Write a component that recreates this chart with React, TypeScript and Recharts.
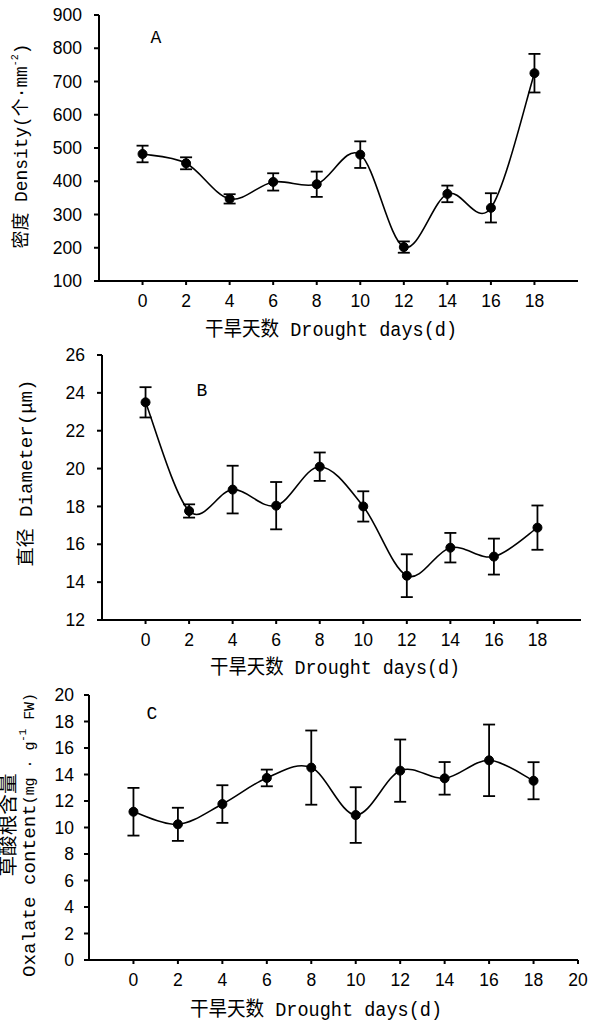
import { LineChart, Line, XAxis, YAxis, ErrorBar } from 'recharts'

const days = [0, 2, 4, 6, 8, 10, 12, 14, 16, 18]

const densityMean = [482, 454, 347, 398, 391, 480, 202, 362, 320, 725]
const densityErr = [25, 18, 14, 26, 38, 40, 17, 25, 44, 58]
const densityTicks = [100, 200, 300, 400, 500, 600, 700, 800, 900]

const diameterMean = [23.5, 17.76, 18.89, 18.04, 20.1, 18.0, 14.34, 15.82, 15.35, 16.88]
const diameterErr = [0.8, 0.35, 1.26, 1.25, 0.75, 0.8, 1.13, 0.78, 0.95, 1.17]
const diameterTicks = [12, 14, 16, 18, 20, 22, 24, 26]

const oxalateMean = [11.19, 10.24, 11.77, 13.74, 14.52, 10.94, 14.29, 13.71, 15.07, 13.53]
const oxalateErr = [1.8, 1.25, 1.42, 0.63, 2.8, 2.1, 2.35, 1.23, 2.7, 1.4]
const oxalateTicks = [0, 2, 4, 6, 8, 10, 12, 14, 16, 18, 20]

const dayTicks = [0, 2, 4, 6, 8, 10, 12, 14, 16, 18]
const dayTicksC = [0, 2, 4, 6, 8, 10, 12, 14, 16, 18, 20]

const TICK_FONT = "'Liberation Sans', Arial, sans-serif"
const TITLE_FONT = "'Liberation Mono', 'Noto Sans CJK SC', monospace"

// smooth line like the spreadsheet "smoothed line" (catmull-rom style bezier)
const smoothCurve = (context: any) => {
  let pts: [number, number][] = []
  return {
    areaStart() {},
    areaEnd() {},
    lineStart() {
      pts = []
    },
    lineEnd() {
      if (!pts.length) return
      context.moveTo(pts[0][0], pts[0][1])
      for (let i = 0; i < pts.length - 1; i++) {
        const p0 = pts[Math.max(i - 1, 0)]
        const p1 = pts[i]
        const p2 = pts[i + 1]
        const p3 = pts[Math.min(i + 2, pts.length - 1)]
        context.bezierCurveTo(
          p1[0] + (p2[0] - p0[0]) / 6,
          p1[1] + (p2[1] - p0[1]) / 6,
          p2[0] - (p3[0] - p1[0]) / 6,
          p2[1] - (p3[1] - p1[1]) / 6,
          p2[0],
          p2[1]
        )
      }
    },
    point(x: number, y: number) {
      pts.push([x, y])
    },
  }
}

const toRows = (mean: number[], err: number[]) =>
  days.map((d, i) => ({ day: d, value: mean[i], err: err[i] }))

interface PanelProps {
  rows: { day: number; value: number; err: number }[]
  top: number
  height: number
  left: number
  right: number
  xAxisHeight: number
  yDomain: [number, number]
  yTicks: number[]
  xTicks: number[]
  yTickMargin: number
}

function Panel({ rows, top, height, left, right, xAxisHeight, yDomain, yTicks, xTicks, yTickMargin }: PanelProps) {
  return (
    <div style={{ position: 'absolute', top, left: 0 }}>
      <LineChart width={589} height={height} data={rows} margin={{ top: 15, right: 589 - right, left: 0, bottom: 0 }}>
        <XAxis
          type="number"
          dataKey="day"
          domain={[-2, 20]}
          ticks={xTicks}
          interval={0}
          height={xAxisHeight}
          tickSize={4}
          tickMargin={10}
          axisLine={{ stroke: '#000', strokeWidth: 2 }}
          tickLine={{ stroke: '#000', strokeWidth: 2 }}
          tick={{ fill: '#000', fontSize: 17.5, fontFamily: TICK_FONT }}
        />
        <YAxis
          type="number"
          domain={yDomain}
          ticks={yTicks}
          interval={0}
          width={left}
          tickSize={5}
          tickMargin={yTickMargin}
          axisLine={{ stroke: '#000', strokeWidth: 2 }}
          tickLine={{ stroke: '#000', strokeWidth: 2 }}
          tick={{ fill: '#000', fontSize: 17.5, fontFamily: TICK_FONT }}
        />
        <Line
          dataKey="value"
          type={smoothCurve as any}
          stroke="#000"
          strokeWidth={1.6}
          dot={{ r: 4.5, fill: '#000', stroke: '#000', strokeWidth: 1 }}
          activeDot={false}
          isAnimationActive={false}
        >
          <ErrorBar dataKey="err" width={6} stroke="#000" strokeWidth={1.8} direction="y" />
        </Line>
      </LineChart>
    </div>
  )
}

function Titles() {
  const sup = { fontSize: 10 }
  return (
    <svg
      width={589}
      height={1022}
      style={{ position: 'absolute', top: 0, left: 0, pointerEvents: 'none' }}
      fontFamily={TITLE_FONT}
      fill="#000"
    >
      {/* panel A */}
      <text x={156} y={38} fontSize={18} textAnchor="middle" dominantBaseline="central">A</text>
      <text
        transform="translate(22,146) rotate(-90)"
        textAnchor="middle"
        dominantBaseline="central"
        fontSize={18}
        textLength={205}
        lengthAdjust="spacingAndGlyphs"
      >
        密度 Density(个·mm<tspan dy={-7} {...sup}>-2</tspan>
        <tspan dy={7}>)</tspan>
      </text>
      <text x={331} y={330} fontSize={20} textAnchor="middle" dominantBaseline="central" textLength={252} lengthAdjust="spacingAndGlyphs">
        干旱天数 Drought days(d)
      </text>

      {/* panel B */}
      <text x={202} y={391} fontSize={18} textAnchor="middle" dominantBaseline="central">B</text>
      <text
        transform="translate(27,473) rotate(-90)"
        textAnchor="middle"
        dominantBaseline="central"
        fontSize={18}
        textLength={187}
        lengthAdjust="spacingAndGlyphs"
      >
        直径 Diameter(μm)
      </text>
      <text x={335} y={668} fontSize={20} textAnchor="middle" dominantBaseline="central" textLength={250} lengthAdjust="spacingAndGlyphs">
        干旱天数 Drought days(d)
      </text>

      {/* panel C */}
      <text x={152} y={714} fontSize={18} textAnchor="middle" dominantBaseline="central">C</text>
      <text
        transform="translate(10,825) rotate(-90)"
        textAnchor="middle"
        dominantBaseline="central"
        fontSize={19}
        textLength={103}
        lengthAdjust="spacingAndGlyphs"
      >
        草酸根含量
      </text>
      <text
        transform="translate(30,835) rotate(-90)"
        textAnchor="middle"
        dominantBaseline="central"
        fontSize={18}
        textLength={284}
        lengthAdjust="spacingAndGlyphs"
      >
        Oxalate content<tspan fontSize={14}>(mg · g</tspan>
        <tspan dy={-7} {...sup}>-1</tspan>
        <tspan dy={7} fontSize={14}> FW)</tspan>
      </text>
      <text x={316} y={1010} fontSize={20} textAnchor="middle" dominantBaseline="central" textLength={252} lengthAdjust="spacingAndGlyphs">
        干旱天数 Drought days(d)
      </text>
    </svg>
  )
}

export default function App() {
  return (
    <div style={{ position: 'absolute', top: 0, left: 0, width: 589, height: 1022, background: '#fff' }}>
      <Panel
        rows={toRows(densityMean, densityErr)}
        top={0}
        height={340}
        left={99}
        right={578}
        xAxisHeight={59}
        yDomain={[100, 900]}
        yTicks={densityTicks}
        xTicks={dayTicks}
        yTickMargin={12}
      />
      <Panel
        rows={toRows(diameterMean, diameterErr)}
        top={340}
        height={340}
        left={102}
        right={581}
        xAxisHeight={60}
        yDomain={[12, 26]}
        yTicks={diameterTicks}
        xTicks={dayTicks}
        yTickMargin={12}
      />
      <Panel
        rows={toRows(oxalateMean, oxalateErr)}
        top={680}
        height={342}
        left={89}
        right={578}
        xAxisHeight={62}
        yDomain={[0, 20]}
        yTicks={oxalateTicks}
        xTicks={dayTicksC}
        yTickMargin={10}
      />
      <Titles />
    </div>
  )
}
